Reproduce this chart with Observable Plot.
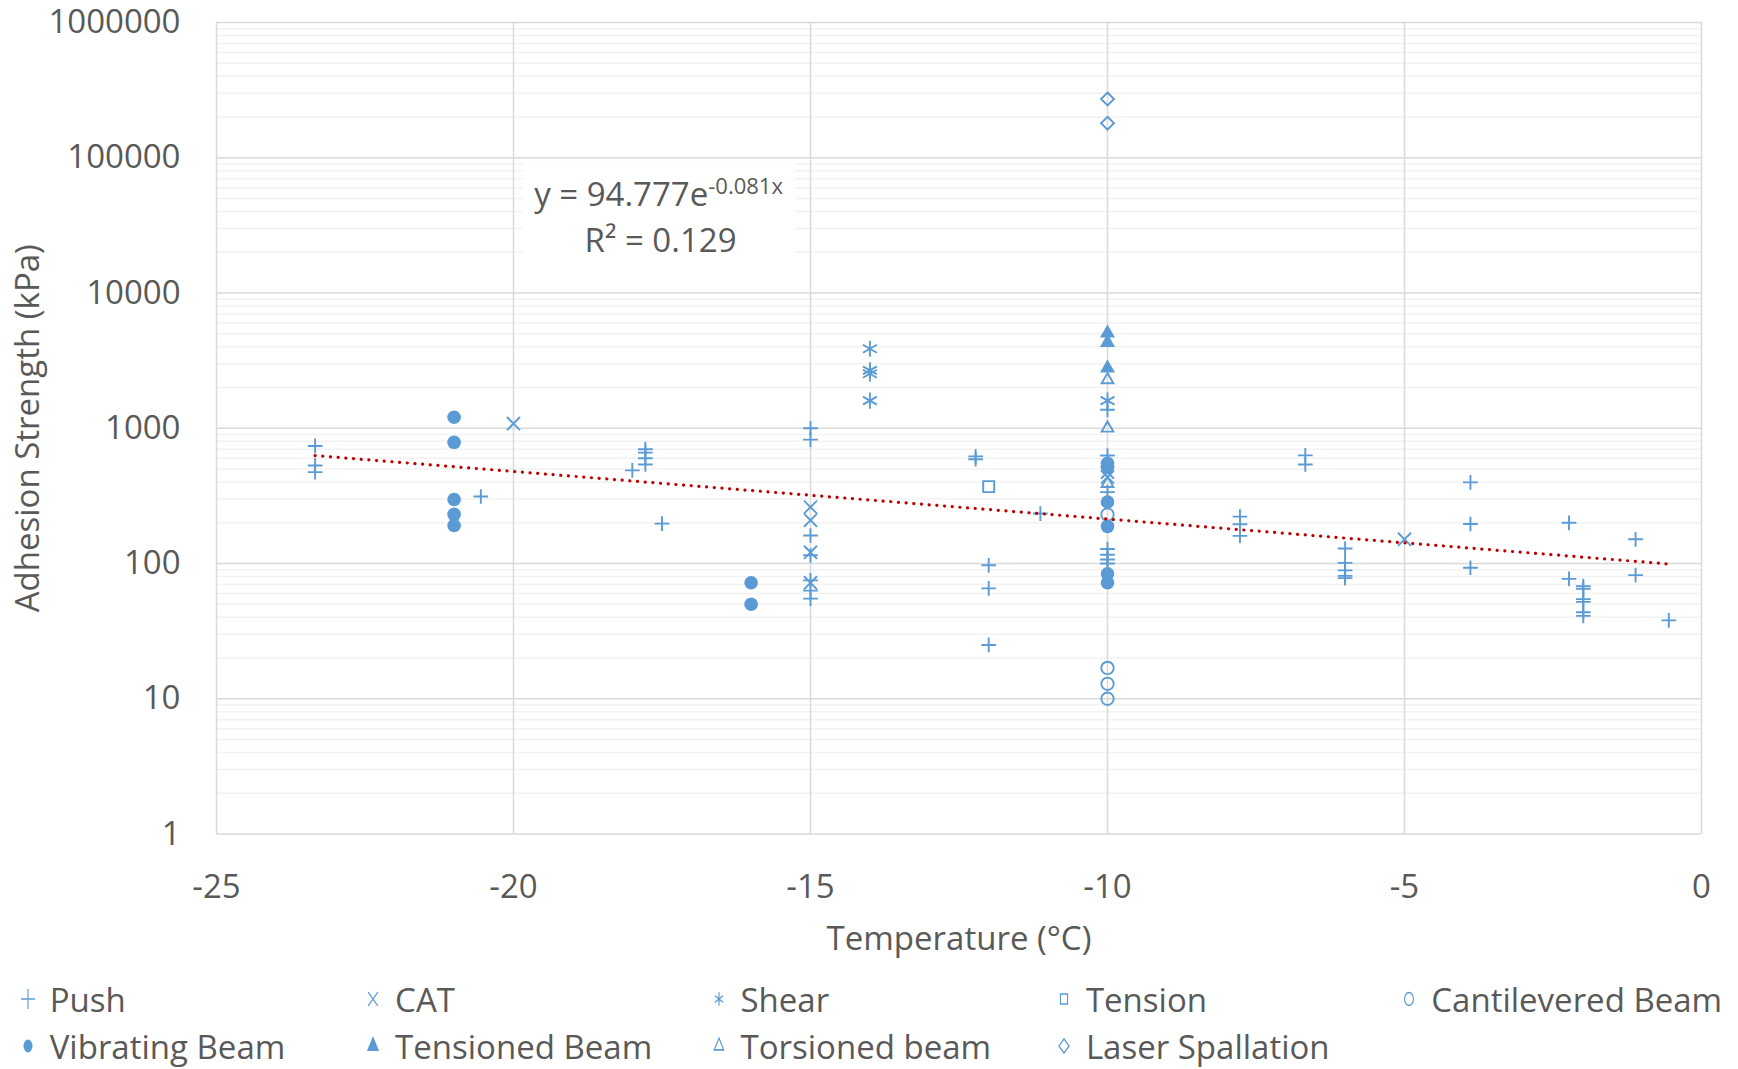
<!DOCTYPE html>
<html><head><meta charset="utf-8">
<script src="https://cdn.jsdelivr.net/npm/d3@7"></script>
<script src="https://cdn.jsdelivr.net/npm/@observablehq/plot@0.6"></script>
<style>
html,body{margin:0;padding:0;background:#fff;}
#wrap{position:relative;width:1738px;height:1069px;font-family:"Open Sans",sans-serif;}
#wrap svg.plot{display:block;}
.legend{position:absolute;left:0;top:965px;width:1738px;height:104px;}
.item{position:absolute;height:46px;display:flex;align-items:center;font-size:33px;color:#595959;white-space:nowrap;}
.item svg{width:24px;height:24px;margin-right:10px;flex:none;}
</style></head><body><div id="wrap"></div>
<script>
// ---- data (temperature °C, adhesion strength kPa) ----
const pushT = [-23.34,-23.34,-23.34,-20.55,-18.0,-17.78,-17.78,-17.78,-17.78,-17.5,-15,-15,-15,-15,-15,-15,-15,-12.22,-12.22,-12,-12,-12,-11.13,-10,-10,-10,-10,-10,-10,-10,-7.77,-7.77,-7.77,-6.67,-6.67,-6,-6,-6,-6,-6,-3.89,-3.89,-3.89,-2.23,-2.23,-1.99,-1.99,-1.99,-1.99,-1.99,-1.99,-1.11,-1.11,-0.55];
const pushV = [740,531,474,313,488,700,660,600,540,197,1000,824,161,115,75,63,55,620,590,97,65.5,25,234,1370,629,337,128,116,107,100,222,195,160,630,540,129,101,89,81,78,398,196,93,200,77,68,65,54.5,52,43.6,41,151,82,38];
const catT = [-20,-15,-15,-15,-15,-10,-10,-5];
const catV = [1083,261,209,121,72,473,435,151];
const shearT = [-14,-14,-14,-14,-10];
const shearV = [3870,2680,2530,1600,1600];
const tensionT = [-12];
const tensionV = [370];
const cantT = [-10,-10,-10,-10];
const cantV = [230,16.9,12.9,10];
const vibT = [-21,-21,-21,-21,-21,-16,-16,-10,-10,-10,-10,-10,-10];
const vibV = [1207,787,297,231,191,72,50,550,515,285,188,84,72];
const tensionedT = [-10,-10,-10];
const tensionedV = [5050,4300,2780];
const torsionedT = [-10,-10,-10];
const torsionedV = [2280,1000,390];
const laserT = [-10,-10];
const laserV = [272000,180000];

// trendline y = a·e^(b·x), R²
const trendA = 94.777, trendB = -0.081, trendR2 = "0.129";

const xTicks = [-25,-20,-15,-10,-5,0];
const yTicks = [1,10,100,1000,10000,100000,1000000];
const xTitle = "Temperature (°C)";
const yTitle = "Adhesion Strength (kPa)";

const blue = "#5B9BD5";
const series = [
  {name:"Push", t:pushT, v:pushV, symbol:"plus", d3s:d3.symbolPlus, filled:false, r:4.8},
  {name:"CAT", t:catT, v:catV, symbol:"times", d3s:d3.symbolTimes, filled:false, r:6},
  {name:"Shear", t:shearT, v:shearV, symbol:"asterisk", d3s:d3.symbolAsterisk, filled:false, r:7.6},
  {name:"Tension", t:tensionT, v:tensionV, symbol:"square2", d3s:d3.symbolSquare2, filled:false, r:7},
  {name:"Cantilevered Beam", t:cantT, v:cantV, symbol:"circle", d3s:d3.symbolCircle, filled:false, r:6.2},
  {name:"Vibrating Beam", t:vibT, v:vibV, symbol:"circle", d3s:d3.symbolCircle, filled:true, r:6.8},
  {name:"Tensioned Beam", t:tensionedT, v:tensionedV, symbol:"triangle", d3s:d3.symbolTriangle, filled:true, r:5.6},
  {name:"Torsioned beam", t:torsionedT, v:torsionedV, symbol:"triangle2", d3s:d3.symbolTriangle2, filled:false, r:5.6},
  {name:"Laser Spallation", t:laserT, v:laserV, symbol:"diamond2", d3s:d3.symbolDiamond2, filled:false, r:5.8}
];
const rows = series.flatMap(s => s.t.map((t,i) => ({method:s.name, t, v:s.v[i]})));
const allT = rows.map(d => d.t);
const trend = d3.extent(allT).map(t => ({t, v: trendA*Math.exp(trendB*t)}));
const minorY = yTicks.slice(0,-1).flatMap(d => d3.range(2,10).map(k => k*d));

const dotMarks = series.map(s => Plot.dot(rows.filter(d => d.method === s.name), {
  x:"t", y:"v", symbol:s.symbol, r:s.r,
  fill: s.filled ? blue : "none",
  stroke: s.filled ? "none" : blue,
  strokeWidth: 1.9
}));

const plot = Plot.plot({
  width:1738, height:965,
  marginLeft:216, marginRight:37, marginTop:22, marginBottom:131.5,
  style:{fontFamily:'"Open Sans", sans-serif', fontSize:"33px", color:"#595959", background:"white", overflow:"visible"},
  x:{domain:[-25,0]},
  y:{type:"log", domain:[1,1e6]},
  marks:[
    Plot.ruleY(minorY, {stroke:"#f2f2f2", strokeWidth:1.5}),
    Plot.ruleY(yTicks, {stroke:"#d9d9d9", strokeWidth:1.5}),
    Plot.ruleX(xTicks, {stroke:"#d9d9d9", strokeWidth:1.5}),
    Plot.axisY(yTicks, {tickSize:0, tickPadding:36, tickFormat:d => String(d), label:null, fontSize:33}),
    Plot.axisX(xTicks, {tickSize:0, tickPadding:41, tickFormat:d => String(d), label:null, fontSize:33}),
    Plot.text([yTitle], {text:d => d, frameAnchor:"left", textAnchor:"middle", lineAnchor:"middle", dx:-188, rotate:-90, fontSize:33}),
    Plot.text([xTitle], {text:d => d, frameAnchor:"bottom", lineAnchor:"middle", dy:105, fontSize:33}),
    ...dotMarks,
    Plot.line(trend, {x:"t", y:"v", stroke:"#C00000", strokeWidth:3.2, strokeDasharray:"0.1 7.6", strokeLinecap:"round"})
  ]
});
plot.classList.add("plot");
document.getElementById("wrap").appendChild(plot);

// trendline equation label
const sx = plot.scale("x"), sy = plot.scale("y");
const cx = sx.apply(-17.55);
const g = d3.select(plot).append("g")
  .attr("font-family",'"Open Sans", sans-serif').attr("fill","#595959").attr("text-anchor","middle");
g.append("rect").attr("x", cx-136).attr("y", sy.apply(90000)).attr("width",272)
  .attr("height", sy.apply(19000)-sy.apply(90000)).attr("fill","white");
const t1 = g.append("text").attr("x", cx).attr("y", sy.apply(43700)).attr("font-size",33);
t1.append("tspan").text("y = " + trendA + "e");
t1.append("tspan").attr("font-size",22).attr("dy",-12).text(trendB + "x");
g.append("text").attr("x", cx+2).attr("y", sy.apply(19950)).attr("font-size",33).text("R² = " + trendR2);

// legend
const legend = d3.select("#wrap").append("div").attr("class","legend");
series.forEach((s,i) => {
  const col = i % 5, row = Math.floor(i/5);
  const mx = 27.7 + col*345.4;
  const cy = row ? 81 : 34;
  const item = legend.append("div").attr("class","item")
    .style("left", (mx-12)+"px").style("top", (cy-23)+"px");
  const sv = item.append("svg").attr("viewBox","0 0 24 24");
  sv.append("path").attr("d", d3.symbol(s.d3s, 130)())
    .attr("transform","translate(12,12) scale(0.7,1)")
    .attr("fill", s.filled ? blue : "none")
    .attr("stroke", s.filled ? "none" : blue)
    .attr("stroke-width", 1.6);
  item.append("span").text(s.name);
});
</script></body></html>
